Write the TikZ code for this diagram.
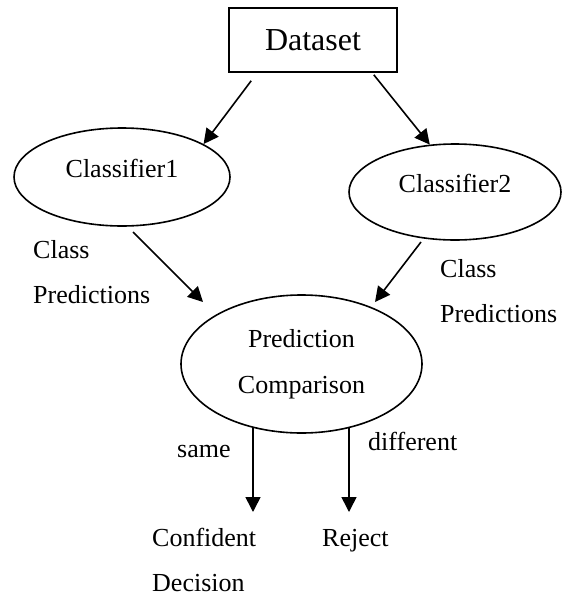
\documentclass[tikz,border=0pt]{standalone}
\usepackage{fontspec}
\setmainfont{Liberation Serif}
\usetikzlibrary{arrows.meta,shapes.geometric,calc}
\begin{document}
\begin{tikzpicture}[x=1pt,y=-1pt,
  base/.style={font=\fontsize{26pt}{46pt}\selectfont},
  ell/.style={base,draw,ellipse,line width=1.6pt,inner sep=0pt},
  lbl/.style={base,anchor=base west,inner sep=0pt},
  arr/.style={line width=1.6pt,-{Triangle[length=15pt,width=15pt]}}]
\useasboundingbox (0,0) rectangle (562,597);
\node[draw,line width=1.6pt,minimum width=168pt,minimum height=64pt,inner sep=0pt,
      font=\fontsize{32pt}{38pt}\selectfont] (ds) at (313,40) {Dataset};
\node[ell,minimum width=216pt,minimum height=98pt,text height=18pt,text depth=18pt] (c1) at (122,177) {Classifier1};
\node[ell,minimum width=212pt,minimum height=96pt,text height=18pt,text depth=18pt] (c2) at (455,192) {Classifier2};
\node[ell,minimum width=241pt,minimum height=138pt,align=center] (pc) at (301.5,364) {Prediction\\Comparison};
\node[lbl] (cl1) at (33,258) {Class};
\node[lbl] (pr1) at (33,303) {Predictions};
\node[lbl] (cl2) at (440,277) {Class};
\node[lbl] (pr2) at (440,322) {Predictions};
\node[lbl] (same) at (177,457) {same};
\node[lbl] (diff) at (368,450) {different};
\node[lbl] (conf) at (152,546) {Confident};
\node[lbl] (dec) at (152,591) {Decision};
\node[lbl] (rej) at (322,546) {Reject};
\coordinate (e1) at (253,512);
\coordinate (e2) at (349,512);
\draw[arr] ($(ds.south west)+(23,8)$) -- (c1.22);
\draw[arr] ($(ds.south east)+(-24,2)$) -- (c2.118);
\draw[arr] ($(c1.center)+(11,55)$) -- ($(pc.center)+(-98.5,-62)$);
\draw[arr] ($(c2.center)+(-34,50)$) -- ($(pc.center)+(73.5,-62)$);
\draw[arr] ($(pc.center)+(-48.5,63)$) -- (e1);
\draw[arr] ($(pc.center)+(47.5,63)$) -- (e2);
\end{tikzpicture}
\end{document}
